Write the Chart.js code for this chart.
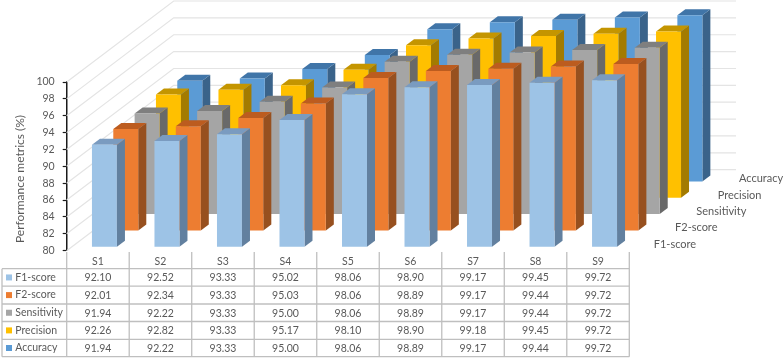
<!DOCTYPE html>
<html><head><meta charset="utf-8">
<style>html,body{margin:0;padding:0;background:#fff}canvas{display:block}</style>
<script src="https://cdn.jsdelivr.net/npm/chart.js@4"></script>
</head><body><canvas id="c" width="784" height="358"></canvas>
<script>
const categories = ['S1','S2','S3','S4','S5','S6','S7','S8','S9'];
const f1Score     = [92.10,92.52,93.33,95.02,98.06,98.90,99.17,99.45,99.72];
const f2Score     = [92.01,92.34,93.33,95.03,98.06,98.89,99.17,99.44,99.72];
const sensitivity = [91.94,92.22,93.33,95.00,98.06,98.89,99.17,99.44,99.72];
const precision   = [92.26,92.82,93.33,95.17,98.10,98.90,99.18,99.45,99.72];
const accuracy    = [91.94,92.22,93.33,95.00,98.06,98.89,99.17,99.44,99.72];
const seriesNames = ['F1-score','F2-score','Sensitivity','Precision','Accuracy'];
const yAxisTitle = 'Performance metrics (%)';

const FONT = 'Lato';
const TXT = '#595959';
const ROW_DX = 21.33, ROW_DY = -16.3, SIDE_DX = 8, SIDE_DY = -6;
const OFF_X = 6.5, OFF_Y = -4;
const WALL_DX = 107, WALL_DY = -81;
const LEFT = 66.7, RIGHT = 629.3, TOP = 82, BOTTOM = 250.7, WALL_RIGHT = 736;

class Bar3DController extends Chart.BarController {
  static id = 'bar3d';
  draw() {
    const ctx = this.chart.ctx, ds = this.getDataset(), row = this.index;
    const dx = OFF_X + ROW_DX * row, dy = OFF_Y + ROW_DY * row;
    const basePx = this.chart.scales.y.getBasePixel();
    this.getMeta().data.forEach(el => {
      const l = el.x - el.width / 2 + dx, r = el.x + el.width / 2 + dx;
      const t = el.y + dy, b = basePx + dy;
      const poly = (c, pts) => {
        ctx.fillStyle = c; ctx.beginPath();
        pts.forEach((p, i) => i ? ctx.lineTo(p[0], p[1]) : ctx.moveTo(p[0], p[1]));
        ctx.closePath(); ctx.fill();
      };
      poly(ds.sideColor, [[r,t],[r+SIDE_DX,t+SIDE_DY],[r+SIDE_DX,b+SIDE_DY],[r,b]]);
      poly(ds.topColor, [[l,t],[l+SIDE_DX,t+SIDE_DY],[r+SIDE_DX,t+SIDE_DY],[r,t]]);
      poly(ds.backgroundColor, [[l,t],[r,t],[r,b],[l,b]]);
    });
  }
}
Chart.register(Bar3DController);

const wallPlugin = {
  id: 'wall',
  beforeDatasetsDraw(chart) {
    const ctx = chart.ctx, ys = chart.scales.y, a = chart.chartArea;
    ctx.save();
    ctx.lineWidth = 1.2; ctx.strokeStyle = '#e4e4e4';
    ys.ticks.forEach(t => {
      const y = ys.getPixelForValue(t.value);
      ctx.beginPath();
      ctx.moveTo(a.left, y);
      ctx.lineTo(a.left + WALL_DX, y + WALL_DY);
      ctx.lineTo(WALL_RIGHT, y + WALL_DY);
      ctx.stroke();
    });
    ctx.restore();
  }
};

const tablePlugin = {
  id: 'dataTable',
  afterDraw(chart) {
    const ctx = chart.ctx, xs = chart.scales.x;
    const rowLines = [268.7, 286.2, 304, 321.5, 339.3, 356.7];
    const tableLeft = 2;
    const colW = (xs.right - xs.left) / categories.length;
    ctx.save();
    ctx.strokeStyle = '#bfbfbf'; ctx.lineWidth = 1.3;
    rowLines.forEach(y => { ctx.beginPath(); ctx.moveTo(tableLeft, y); ctx.lineTo(xs.right, y); ctx.stroke(); });
    ctx.beginPath(); ctx.moveTo(tableLeft, rowLines[0]); ctx.lineTo(tableLeft, rowLines[5]); ctx.stroke();
    for (let i = 0; i <= categories.length; i++) {
      const x = xs.left + i * colW;
      ctx.beginPath(); ctx.moveTo(x, 252); ctx.lineTo(x, rowLines[5]); ctx.stroke();
    }
    ctx.font = '10.5px ' + FONT; ctx.textBaseline = 'middle';
    chart.data.datasets.forEach((ds, r) => {
      const cy = (rowLines[r] + rowLines[r + 1]) / 2;
      ctx.fillStyle = ds.backgroundColor;
      ctx.fillRect(6, cy - 3, 6, 6);
      ctx.fillStyle = TXT; ctx.textAlign = 'left';
      ctx.fillText(ds.label, 15.3, cy);
      ctx.textAlign = 'center';
      ds.data.forEach((v, i) => ctx.fillText(v.toFixed(2), xs.getPixelForTick(i), cy + 0.5));
      ctx.textAlign = 'left';
      ctx.font = '11px ' + FONT;
      ctx.fillText(ds.label, 653.7 + r * ROW_DX, 244 + r * ROW_DY);
      ctx.font = '10.5px ' + FONT;
    });
    ctx.translate(20, 179);
    ctx.rotate(-Math.PI / 2);
    ctx.textAlign = 'center';
    ctx.font = '12px ' + FONT;
    ctx.fillText(yAxisTitle, 0, 0);
    ctx.restore();
  }
};

const seriesValues = [f1Score, f2Score, sensitivity, precision, accuracy];
const fronts = ['#9DC3E6','#ED7D31','#A5A5A5','#FFC000','#5B9BD5'];
const sides  = ['#62809F','#97501F','#696969','#A37B00','#3A638A'];
const tops   = ['#7A9BC0','#BC5C1F','#7F7F7F','#C49500','#4075A8'];

new Chart(document.getElementById('c'), {
  type: 'bar3d',
  data: {
    labels: categories,
    datasets: seriesNames.map((n, i) => ({
      label: n, data: seriesValues[i],
      backgroundColor: fronts[i], sideColor: sides[i], topColor: tops[i],
      barThickness: 25, grouped: false, clip: false
    }))
  },
  plugins: [wallPlugin, tablePlugin],
  options: {
    responsive: false, animation: false,
    layout: { padding: { left: 12, right: 784 - RIGHT, top: TOP, bottom: 0 } },
    plugins: { legend: { display: false }, tooltip: { enabled: false } },
    scales: {
      x: {
        type: 'category', offset: true,
        afterFit(s) { s.height = 358 - BOTTOM; },
        border: { display: false },
        grid: { display: false, drawTicks: false },
        ticks: { color: TXT, font: { family: FONT, size: 10.5 }, padding: 5, maxRotation: 0 }
      },
      y: {
        type: 'linear', min: 80, max: 100,
        afterFit(s) { s.width = LEFT - 12; },
        border: { display: true, color: '#1a1a1a', width: 1.5 },
        grid: { display: true, drawOnChartArea: false, drawTicks: true, tickLength: 4, tickColor: '#1a1a1a', tickWidth: 1.2 },
        ticks: { stepSize: 2, color: TXT, font: { family: FONT, size: 10.5 }, padding: 8 }
      }
    }
  }
});
</script></body></html>
